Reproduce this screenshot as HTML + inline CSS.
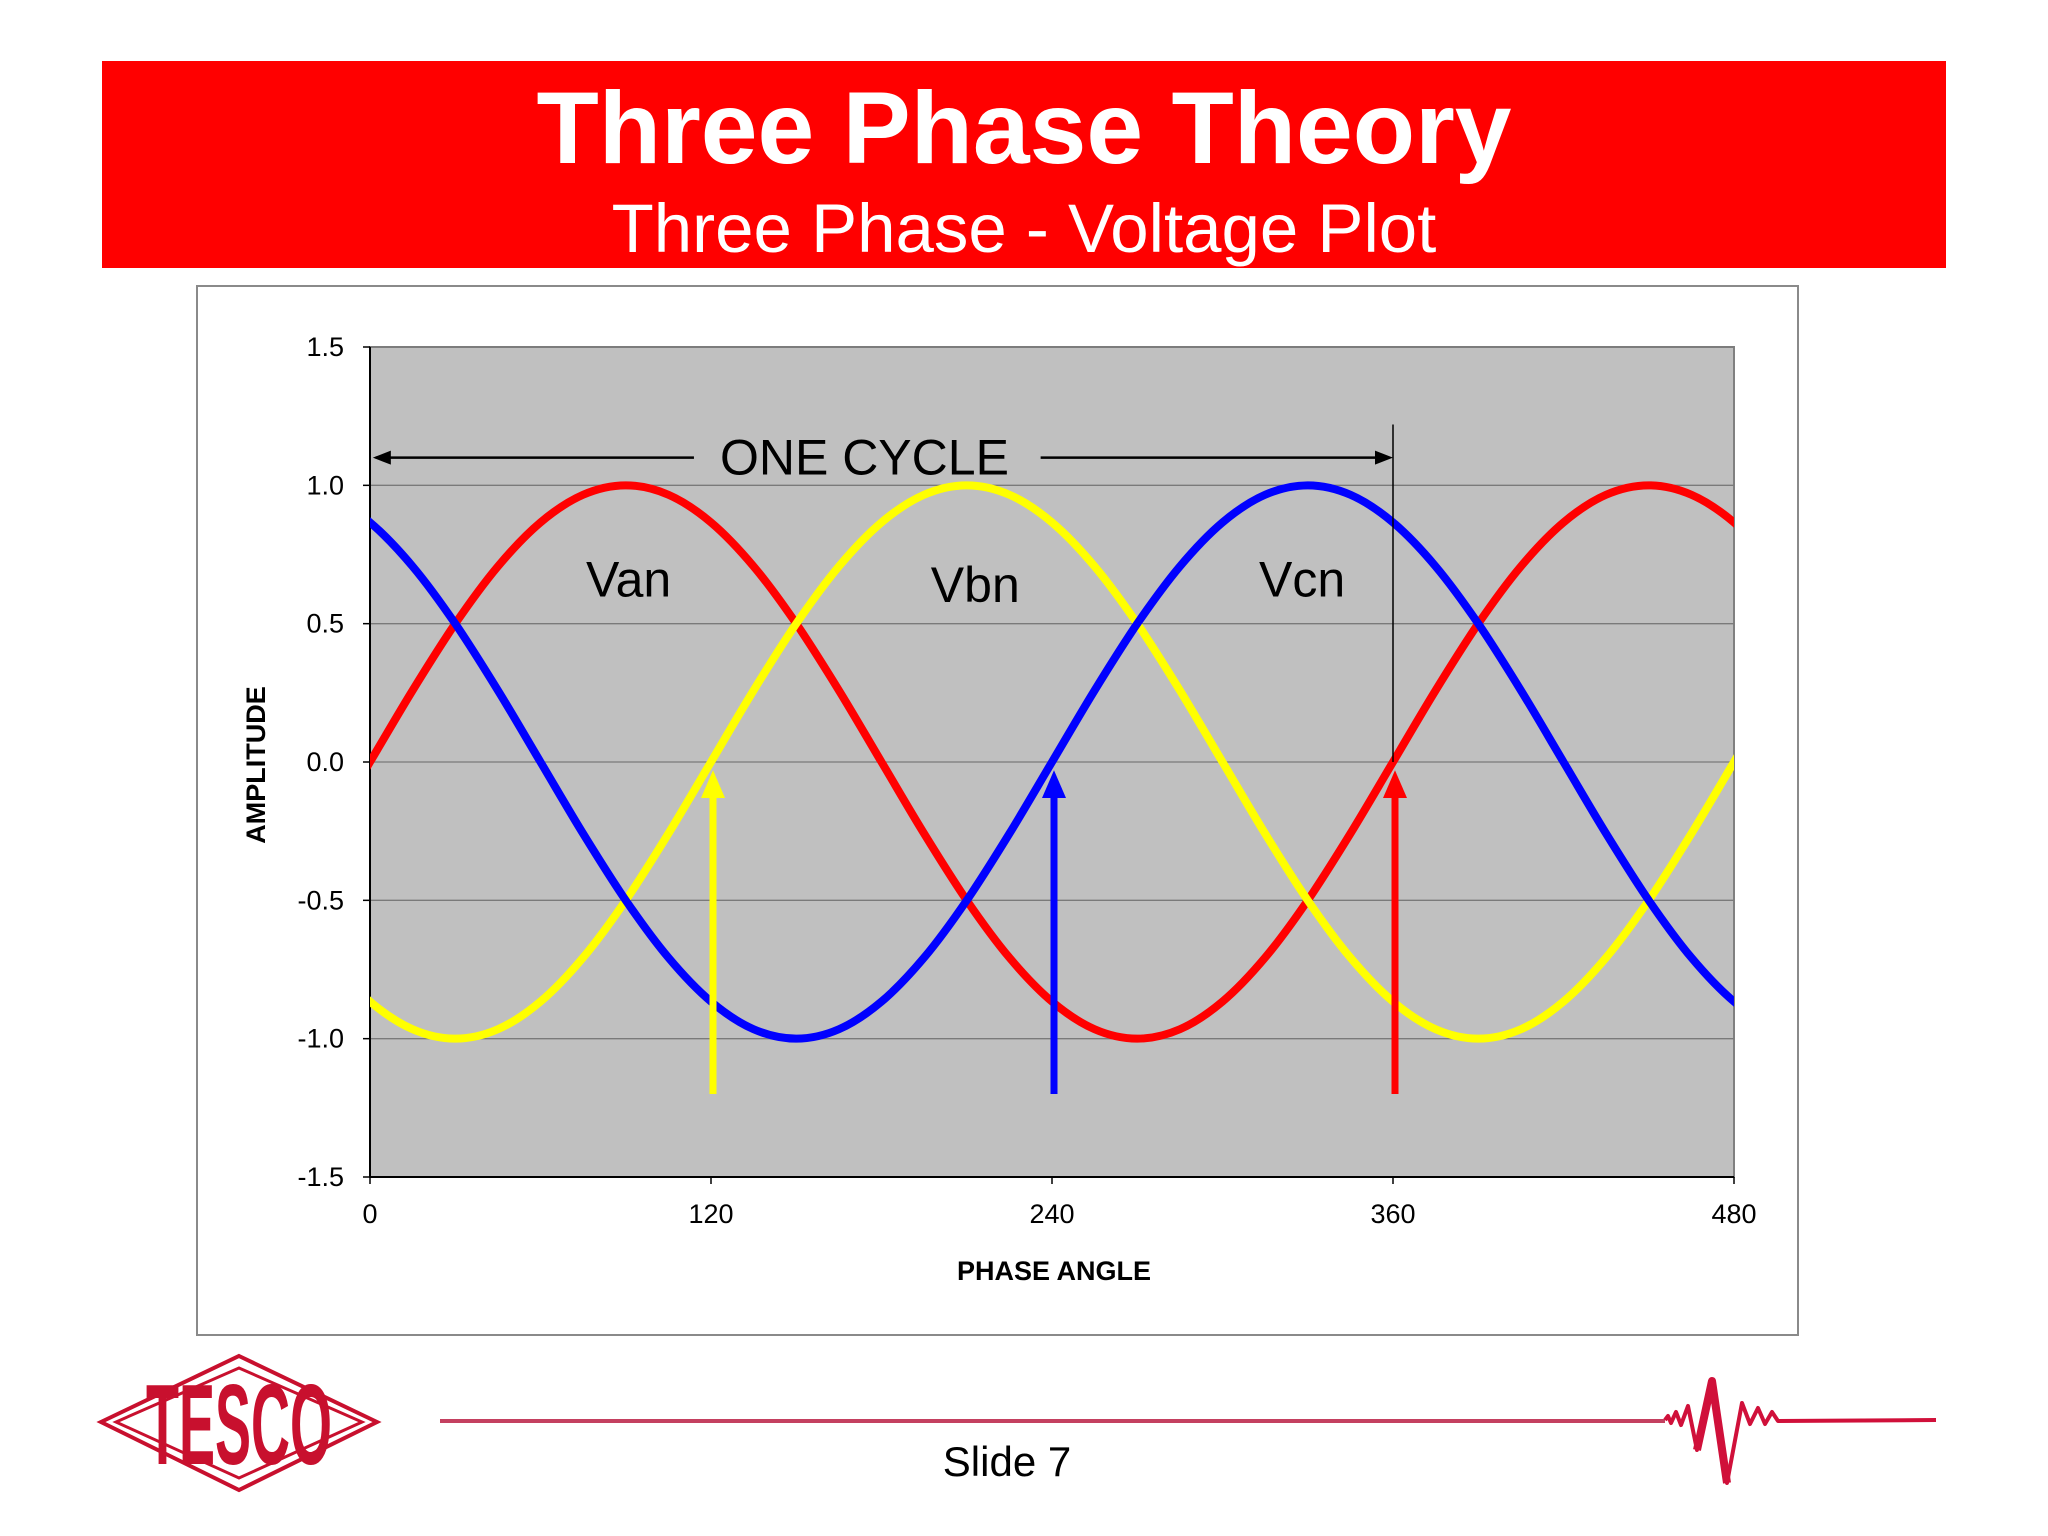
<!DOCTYPE html>
<html><head><meta charset="utf-8"><style>
html,body{margin:0;padding:0;background:#fff;}
body{width:2048px;height:1536px;position:relative;overflow:hidden;font-family:"Liberation Sans",sans-serif;}
</style></head><body>
<div style="position:absolute;left:102px;top:61px;width:1844px;height:207px;background:#ff0000;"></div>
<div style="position:absolute;left:102px;width:1844px;top:72px;text-align:center;color:#fff;font-weight:bold;font-size:102px;line-height:112px;">Three Phase Theory</div>
<div style="position:absolute;left:102px;width:1844px;top:190px;text-align:center;color:#fff;font-size:69px;line-height:78px;">Three Phase - Voltage Plot</div>
<svg id="chart" width="2048" height="1536" style="position:absolute;left:0;top:0;" xmlns="http://www.w3.org/2000/svg"></svg>
<svg width="2048" height="1536" style="position:absolute;left:0;top:0;" xmlns="http://www.w3.org/2000/svg">
<g>
<polygon points="239,1356 377,1422 239,1490 101,1422" fill="none" stroke="#c8102e" stroke-width="4"/>
<polygon points="239,1368 362,1422 239,1478 116,1422" fill="none" stroke="#c8102e" stroke-width="3"/>
<text x="239" y="1422" text-anchor="middle" font-family="Liberation Sans" font-weight="bold" font-size="60" fill="#c8102e" transform="translate(239,1422) scale(0.9,1.9) translate(-239,-1422) translate(0,22)">TESCO</text>
</g>
<line x1="440" y1="1421" x2="1665" y2="1421" stroke="#c44060" stroke-width="4"/>
<path d="M1665,1420 L1668,1416 L1671,1423 L1676,1412 L1681,1425 L1688,1406 L1697,1450 L1712,1381 L1727,1483 L1742,1403 L1750,1424 L1758,1408 L1765,1424 L1772,1412 L1778,1421 L1936,1420" fill="none" stroke="#d0103a" stroke-width="4" stroke-linejoin="round"/>
<path d="M1697,1450 L1712,1381 L1727,1483" fill="none" stroke="#d0103a" stroke-width="8" stroke-linejoin="round"/>
<text x="1007" y="1476" text-anchor="middle" font-family="Liberation Sans" font-size="42" fill="#000">Slide 7</text>
</svg>
<script>
const angles=[-15,0,15,30,45,60,75,90,105,120,135,150,165,180,195,210,225,240,255,270,285,300,315,330,345,360,375,390,405,420,435,450,465,480,495];
const van=[-.259,0,.259,.5,.707,.866,.966,1,.966,.866,.707,.5,.259,0,-.259,-.5,-.707,-.866,-.966,-1,-.966,-.866,-.707,-.5,-.259,0,.259,.5,.707,.866,.966,1,.966,.866,.707];
const vbn=[-.707,-.866,-.966,-1,-.966,-.866,-.707,-.5,-.259,0,.259,.5,.707,.866,.966,1,.966,.866,.707,.5,.259,0,-.259,-.5,-.707,-.866,-.966,-1,-.966,-.866,-.707,-.5,-.259,0,.259];
const vcn=[.966,.866,.707,.5,.259,0,-.259,-.5,-.707,-.866,-.966,-1,-.966,-.866,-.707,-.5,-.259,0,.259,.5,.707,.866,.966,1,.966,.866,.707,.5,.259,0,-.259,-.5,-.707,-.866,-.966];
const xTicks=[0,120,240,360,480];
const yTicks=[1.5,1.0,0.5,0.0,-0.5,-1.0,-1.5];
const phaseArrows=[120,240,360];
const seriesLabels=[["Van",91,0.66],["Vbn",213,0.64],["Vcn",328,0.66]];
const L=370,R=1734,T=347,B=1177;
const X=v=>L+(v-0)/(480-0)*(R-L);
const Y=v=>T+(1.5-v)/3*(B-T);
const NS="http://www.w3.org/2000/svg";
const svg=document.getElementById('chart');
function mk(tag,attrs,parent){const e=document.createElementNS(NS,tag);for(const k in attrs)e.setAttribute(k,attrs[k]);(parent||svg).appendChild(e);return e;}
let defs=mk('defs',{});
let cp=mk('clipPath',{id:'plotclip'},defs);
mk('rect',{x:L,y:T-20,width:R-L,height:B-T+40},cp);
let box=mk('rect',{x:197,y:286,width:1601,height:1049,fill:'#fff',stroke:'#8a8a8a','stroke-width':2});


let pa=mk('rect',{x:L,y:T,width:R-L,height:B-T,fill:'#c0c0c0',stroke:'#808080','stroke-width':2});


yTicks.forEach(t=>{
 let g=mk('line',{x1:L,x2:R,y1:Y(t),y2:Y(t),stroke:'#7a7a7a','stroke-width':1.3});
 
 
 mk('line',{x1:L-7,x2:L,y1:Y(t),y2:Y(t),stroke:'#000','stroke-width':1.5});
 let tx=mk('text',{x:L-26,y:Y(t)+9,'text-anchor':'end','font-family':'Liberation Sans','font-size':27});
 tx.textContent=t.toFixed(1);
 
 
});
xTicks.forEach(t=>{
 mk('line',{x1:X(t),x2:X(t),y1:B,y2:B+7,stroke:'#000','stroke-width':1.5});
 let tx=mk('text',{x:X(t),y:B+46,'text-anchor':'middle','font-family':'Liberation Sans','font-size':27});
 tx.textContent=String(t);
 
 
});
mk('line',{x1:L,x2:L,y1:T,y2:B,stroke:'#000','stroke-width':2});
mk('line',{x1:L,x2:R,y1:B,y2:B,stroke:'#000','stroke-width':2});
let xt=mk('text',{x:(L+R)/2+2,y:1280,'text-anchor':'middle','font-family':'Liberation Sans','font-weight':'bold','font-size':27});
xt.textContent='PHASE ANGLE';


let yt=mk('text',{x:0,y:0,'text-anchor':'middle','font-family':'Liberation Sans','font-weight':'bold','font-size':27,transform:'translate(265,765) rotate(-90)'});
yt.textContent='AMPLITUDE';


function pathFor(vals){
 const p=angles.map((a,i)=>[X(a),Y(vals[i])]);
 let d='M'+p[0][0]+','+p[0][1];
 for(let i=0;i<p.length-1;i++){
  const p0=p[Math.max(0,i-1)],p1=p[i],p2=p[i+1],p3=p[Math.min(p.length-1,i+2)];
  d+=' C'+(p1[0]+(p2[0]-p0[0])/6)+','+(p1[1]+(p2[1]-p0[1])/6)+' '+(p2[0]-(p3[0]-p1[0])/6)+','+(p2[1]-(p3[1]-p1[1])/6)+' '+p2[0]+','+p2[1];
 }
 return d;
}
[[van,'#ff0000','series-van'],[vbn,'#ffff00','series-vbn'],[vcn,'#0000ff','series-vcn']].forEach(s=>{
 let e=mk('path',{d:pathFor(s[0]),fill:'none',stroke:s[1],'stroke-width':8,'clip-path':'url(#plotclip)'});
 
 
});
mk('line',{x1:X(360),x2:X(360),y1:Y(1.22),y2:Y(0),stroke:'#000','stroke-width':1.5});
const cy=Y(1.1);
mk('line',{x1:X(2),x2:X(114),y1:cy,y2:cy,stroke:'#000','stroke-width':2.5});
mk('line',{x1:X(236),x2:X(356),y1:cy,y2:cy,stroke:'#000','stroke-width':2.5});
mk('polygon',{points:`${X(1)},${cy} ${X(1)+18},${cy-7} ${X(1)+18},${cy+7}`,fill:'#000'});
mk('polygon',{points:`${X(360)},${cy} ${X(360)-18},${cy-7} ${X(360)-18},${cy+7}`,fill:'#000'});
let oc=mk('text',{x:X(174),y:cy+17,'text-anchor':'middle','font-family':'Liberation Sans','font-size':50});
oc.textContent='ONE CYCLE';


seriesLabels.forEach(l=>{
 let t=mk('text',{x:X(l[1]),y:Y(l[2])+17,'text-anchor':'middle','font-family':'Liberation Sans','font-size':50});
 t.textContent=l[0];
 
 
});
const arrowColors=['#ffff00','#0000ff','#ff0000'];
phaseArrows.forEach((a,i)=>{
 const x=X(a)+2;
 let g=mk('g',{});
 
 
 mk('line',{x1:x,x2:x,y1:Y(-1.2),y2:Y(-0.08),stroke:arrowColors[i],'stroke-width':7},g);
 mk('polygon',{points:`${x},${Y(-0.03)} ${x-12},${Y(-0.13)} ${x+12},${Y(-0.13)}`,fill:arrowColors[i]},g);
});
</script>
</body></html>
